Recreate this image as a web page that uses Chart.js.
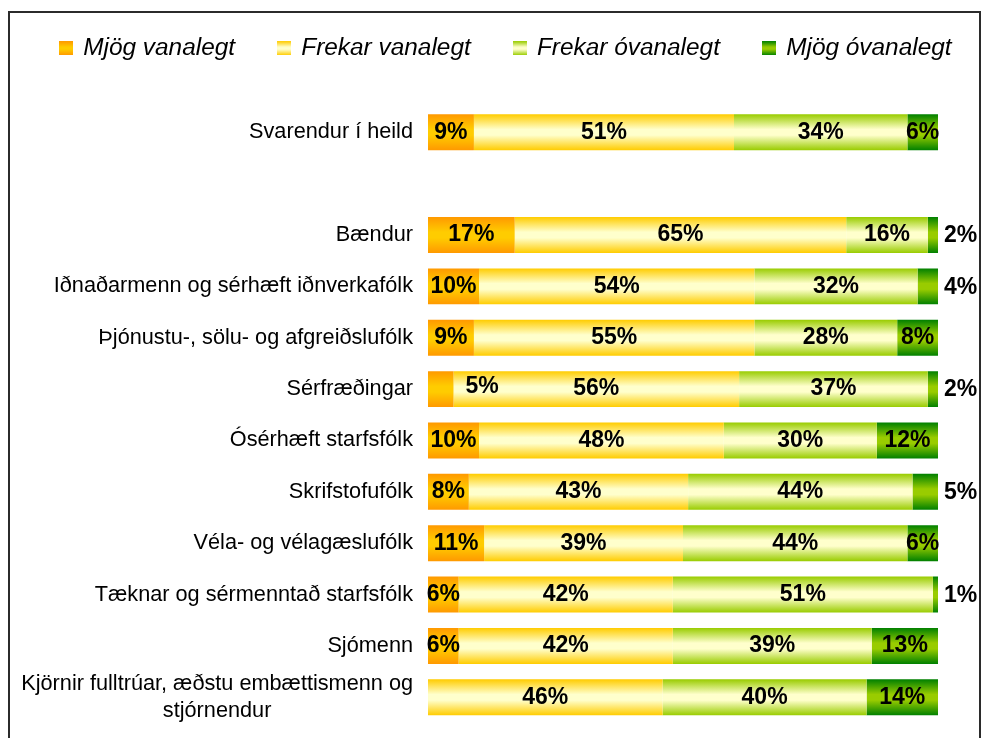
<!DOCTYPE html>
<html>
<head>
<meta charset="utf-8">
<script src="https://cdn.jsdelivr.net/npm/chart.js@4.4.1/dist/chart.umd.min.js"></script>
<style>
    html, body { margin: 0; padding: 0; background: #fff; overflow: hidden; width: 983px; height: 738px; }
    #frame { position: absolute; left: 8px; top: 11px; width: 969px; height: 800px; border: 2px solid #2b2b2b; }
    #wrap { position: absolute; left: 0; top: -8px; width: 1010px; height: 746px; }
</style>
</head>
<body>
<div id="frame"></div>
<div id="wrap"><canvas id="chart"></canvas></div>
<script>
// --- DATA ---
const categories = [
    'Svarendur í heild',
    '',
    'Bændur',
    'Iðnaðarmenn og sérhæft iðnverkafólk',
    'Þjónustu-, sölu- og afgreiðslufólk',
    'Sérfræðingar',
    'Ósérhæft starfsfólk',
    'Skrifstofufólk',
    'Véla- og vélagæslufólk',
    'Tæknar og sérmenntað starfsfólk',
    'Sjómenn',
    ['Kjörnir fulltrúar, æðstu embættismenn og', 'stjórnendur']
];
const seriesNames = ['Mjög vanalegt', 'Frekar vanalegt', 'Frekar óvanalegt', 'Mjög óvanalegt'];
const mjogVanalegt    = [9, null, 17, 10, 9, 5, 10, 8, 11, 6, 6, 0];
const frekarVanalegt  = [51, null, 65, 54, 55, 56, 48, 43, 39, 42, 42, 46];
const frekarOvanalegt = [34, null, 16, 32, 28, 37, 30, 44, 44, 51, 39, 40];
const mjogOvanalegt   = [6, null, 2, 4, 8, 2, 12, 5, 6, 1, 13, 14];

// --- STYLE ---
const FONT = "'Liberation Sans', Arial, sans-serif";
const GRADIENTS = [
    ['#ff9900', '#ffcc00', '#ff9900'],
    ['#ffcc00', '#ffffcc', '#ffcc00'],
    ['#99cc00', '#ffffcc', '#99cc00'],
    ['#008000', '#99cc00', '#008000']
];
const BAR_FRACTION = 0.7;

function fillStops(grad, stops) {
    grad.addColorStop(0, stops[0]);
    grad.addColorStop(0.42, stops[1]);
    grad.addColorStop(0.58, stops[1]);
    grad.addColorStop(1, stops[2]);
    return grad;
}

function barGradient(stops) {
    return (context) => {
        const chart = context.chart;
        const yScale = chart.scales && chart.scales.y;
        if (!yScale || context.dataIndex === undefined || !chart.chartArea) return stops[1];
        const yc = yScale.getPixelForValue(context.dataIndex);
        const half = (yScale.height / categories.length) * BAR_FRACTION / 2;
        return fillStops(chart.ctx.createLinearGradient(0, yc - half, 0, yc + half), stops);
    };
}

function legendSwatch(stops) {
    const c = document.createElement('canvas');
    c.width = 14; c.height = 14;
    const g = c.getContext('2d');
    g.fillStyle = fillStops(g.createLinearGradient(0, 0, 0, 14), stops);
    g.fillRect(0, 0, 14, 14);
    return c;
}

// --- PLUGINS ---
const categoryLabels = {
    id: 'categoryLabels',
    afterDraw(chart) {
        const ctx = chart.ctx;
        const yScale = chart.scales.y;
        const right = chart.chartArea.left - 15;
        ctx.save();
        ctx.font = `21.7px ${FONT}`;
        ctx.fillStyle = '#000';
        ctx.textBaseline = 'middle';
        categories.forEach((label, i) => {
            const y = yScale.getPixelForValue(i);
            if (Array.isArray(label)) {
                const widest = Math.max(...label.map(l => ctx.measureText(l).width));
                const cx = right - widest / 2;
                const lh = 27;
                ctx.textAlign = 'center';
                label.forEach((line, k) => {
                    ctx.fillText(line, cx, y + (k - (label.length - 1) / 2) * lh);
                });
            } else {
                ctx.textAlign = 'right';
                ctx.fillText(label, right, y);
            }
        });
        ctx.restore();
    }
};

const valueLabels = {
    id: 'valueLabels',
    afterDatasetsDraw(chart) {
        const ctx = chart.ctx;
        const last = chart.data.datasets.length - 1;
        ctx.save();
        ctx.font = `bold 23px ${FONT}`;
        ctx.fillStyle = '#000';
        ctx.textBaseline = 'middle';
        chart.data.datasets.forEach((ds, di) => {
            const meta = chart.getDatasetMeta(di);
            meta.data.forEach((bar, i) => {
                const v = ds.data[i];
                if (!v) return;
                const text = v + '%';
                if (di === last && v <= 5) {
                    ctx.textAlign = 'left';
                    ctx.fillText(text, bar.x + 6, bar.y + 1);
                } else if (di === 0 && v <= 5) {
                    ctx.textAlign = 'left';
                    ctx.fillText(text, bar.x + 12, bar.y - 2);
                } else {
                    ctx.textAlign = 'center';
                    ctx.fillText(text, (bar.x + bar.base) / 2, bar.y);
                }
            });
        });
        ctx.restore();
    }
};

// --- CHART ---
const seriesData = [mjogVanalegt, frekarVanalegt, frekarOvanalegt, mjogOvanalegt];
const swatches = GRADIENTS.map(legendSwatch);

new Chart(document.getElementById('chart'), {
    type: 'bar',
    data: {
        labels: categories,
        datasets: seriesNames.map((name, i) => ({
            label: name,
            data: seriesData[i],
            backgroundColor: barGradient(GRADIENTS[i]),
            borderWidth: 0,
            barPercentage: BAR_FRACTION,
            categoryPercentage: 1
        }))
    },
    options: {
        indexAxis: 'y',
        responsive: true,
        maintainAspectRatio: false,
        animation: false,
        layout: { padding: { top: 0, right: 0, bottom: 15, left: 17 } },
        scales: {
            x: { stacked: true, min: 0, max: 100, display: false },
            y: {
                stacked: true,
                grid: { display: false },
                border: { display: false },
                ticks: { display: false },
                afterFit: (scale) => { scale.width = 411; }
            },
            // empty box on the right, leaves room for outside labels
            yr: {
                type: 'category',
                axis: 'y',
                position: 'right',
                grid: { display: false },
                border: { display: false },
                ticks: { display: false },
                afterFit: (scale) => { scale.width = 72; }
            }
        },
        plugins: {
            tooltip: { enabled: false },
            // empty spacer between legend and bars
            subtitle: {
                display: true,
                text: ' ',
                weight: 900,
                font: { size: 1 },
                padding: { top: 0, bottom: 35 }
            },
            legend: {
                position: 'top',
                align: 'start',
                labels: {
                    usePointStyle: true,
                    pointStyleWidth: 10,
                    boxWidth: 14,
                    boxHeight: 14,
                    padding: 44,
                    color: '#000',
                    font: { family: FONT, size: 24.4, style: 'italic' },
                    generateLabels: () => seriesNames.map((name, i) => ({
                        text: name,
                        pointStyle: swatches[i],
                        fillStyle: GRADIENTS[i][1],
                        strokeStyle: 'transparent',
                        lineWidth: 0,
                        hidden: false,
                        datasetIndex: i
                    }))
                }
            }
        }
    },
    plugins: [categoryLabels, valueLabels]
});
</script>
</body>
</html>
